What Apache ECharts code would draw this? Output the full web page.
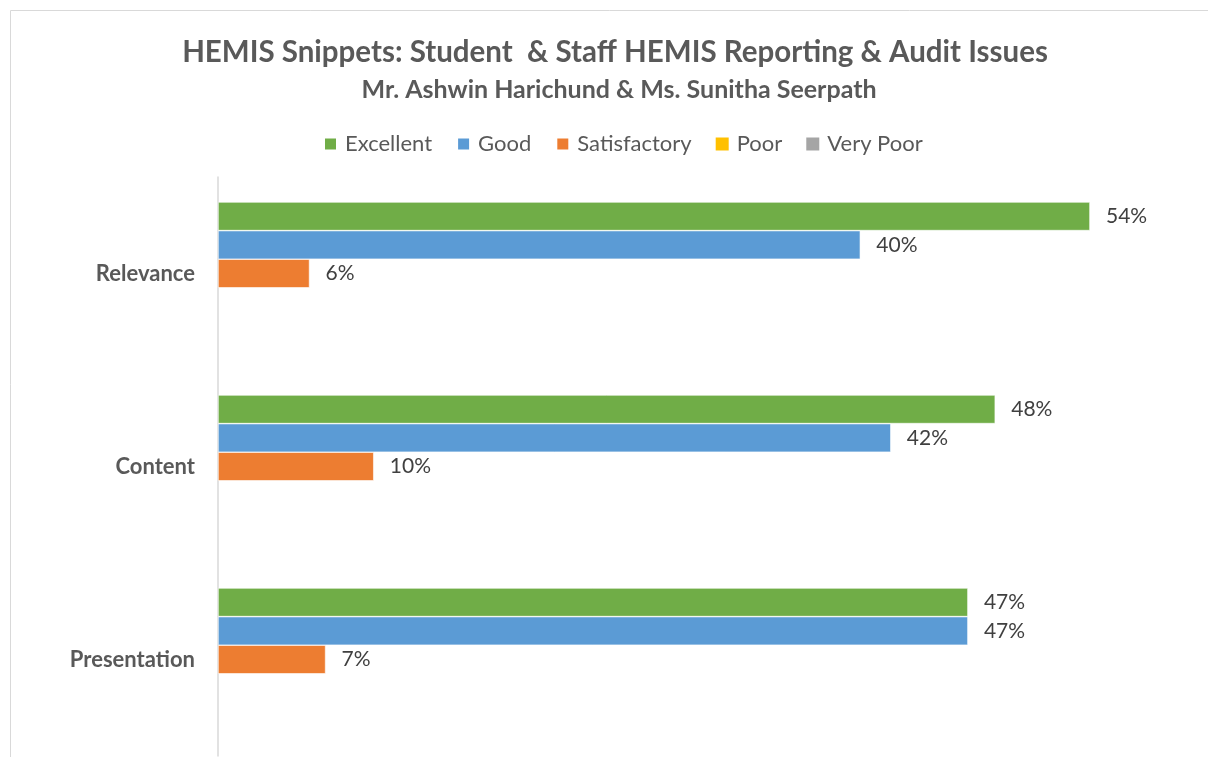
<!doctype html>
<html>
<head>
<meta charset="UTF-8">
<title>HEMIS Snippets</title>
<script src="https://cdn.jsdelivr.net/npm/echarts@6/dist/echarts.min.js"></script>
<style>
  html, body { margin: 0; padding: 0; background: #fff; }
  #chart { width: 1208px; height: 757px; }
</style>
</head>
<body>
<div id="chart"></div>
<script>
// categories, top to bottom
var categories = ['Relevance', 'Content', 'Presentation'];
var seriesNames = ['Excellent', 'Good', 'Satisfactory', 'Poor', 'Very Poor'];
// percentages per category
var excellent = [54.3, 48.4, 46.7];
var good = [40.0, 41.9, 46.7];
var satisfactory = [5.7, 9.7, 6.7];
var poor = [0, 0, 0];
var veryPoor = [0, 0, 0];
var colors = ['#70AD47', '#5B9BD5', '#ED7D31', '#FFC000', '#A5A5A5'];

var font = 'Lato, "Noto Sans", sans-serif';
var values = [excellent, good, satisfactory, poor, veryPoor];

var series = seriesNames.map(function (name, i) {
  return {
    name: name,
    type: 'bar',
    data: values[i],
    barGap: '0%',
    barCategoryGap: '25.9%',
    itemStyle: { color: colors[i], borderColor: '#ffffff', borderWidth: i < 3 ? 0.6 : 0 },
    label: {
      show: true,
      position: 'right',
      distance: 16,
      color: '#404040',
      fontFamily: font,
      fontSize: 21,
      formatter: function (p) { return p.value ? Math.round(p.value) + '%' : ''; }
    }
  };
});

var chart = echarts.init(document.getElementById('chart'));
chart.setOption({
  animation: false,
  color: colors,
  title: [{
    text: 'HEMIS Snippets: Student  & Staff HEMIS Reporting & Audit Issues',
    left: 610, top: 32, textAlign: 'center',
    textStyle: { fontFamily: font, fontSize: 29.5, fontWeight: 'bold', color: '#595959' }
  }, {
    text: 'Mr. Ashwin Harichund & Ms. Sunitha Seerpath',
    left: 614, top: 72, textAlign: 'center',
    textStyle: { fontFamily: font, fontSize: 25, fontWeight: 'bold', color: '#595959' }
  }],
  legend: {
    data: seriesNames,
    top: 128,
    left: 318,
    icon: 'rect',
    itemWidth: 13,
    itemHeight: 13,
    itemGap: 24,
    textStyle: { fontFamily: font, fontSize: 22, color: '#595959', padding: [0, 0, 0, 3] }
  },
  grid: { left: 218, right: 26.5, top: 177, bottom: 1, containLabel: false },
  xAxis: {
    type: 'value', min: 0, max: 60,
    show: false
  },
  yAxis: {
    type: 'category',
    data: categories,
    inverse: true,
    axisLine: { show: true, lineStyle: { color: '#D9D9D9', width: 1.5 } },
    axisTick: { show: false },
    axisLabel: {
      margin: 23,
      fontFamily: font, fontSize: 22, fontWeight: 'bold', color: '#595959'
    }
  },
  graphic: [{
    type: 'rect',
    shape: { x: 10.5, y: 10.5, width: 1220, height: 780 },
    style: { fill: 'none', stroke: '#D9D9D9', lineWidth: 1 },
    silent: true
  }],
  series: series
});
</script>
</body>
</html>
